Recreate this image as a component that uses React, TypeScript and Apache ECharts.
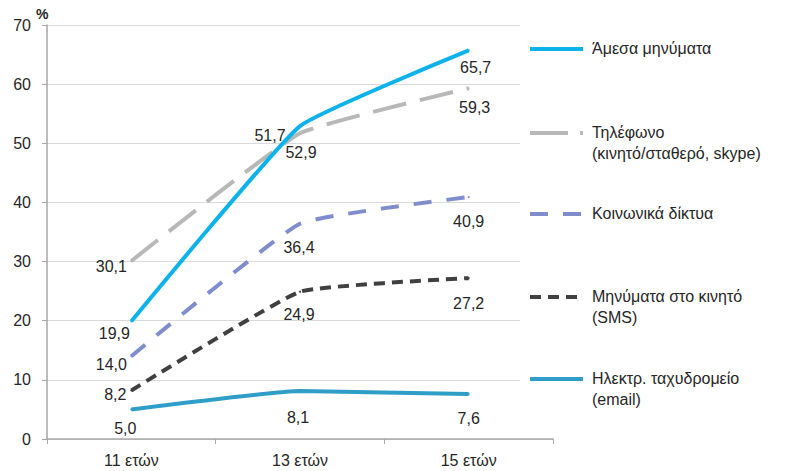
import React, { useEffect, useRef } from "react";
import * as echarts from "echarts";

// Categories and series values (%)
const ages = ["11 ετών", "13 ετών", "15 ετών"];
const instantMessages = [19.9, 52.9, 65.7];
const phone = [30.1, 51.7, 59.3];
const socialNetworks = [14.0, 36.4, 40.9];
const sms = [8.2, 24.9, 27.2];
const email = [5.0, 8.1, 7.6];

const seriesNames = [
  "Άμεσα μηνύματα",
  "Τηλέφωνο\n(κινητό/σταθερό, skype)",
  "Κοινωνικά δίκτυα",
  "Μηνύματα στο κινητό\n(SMS)",
  "Ηλεκτρ. ταχυδρομείο\n(email)",
];

const FONT = "'Liberation Sans', Arial, sans-serif";
const TEXT = "#262626";

type Style = {
  color: string;
  dash: number[] | null;
  labelOffsets: number[][];
  legendY: number;
};

const styles: Style[] = [
  { color: "#0DB2EA", dash: null, labelOffsets: [[-17, 12], [1, 26], [7, 17]], legendY: 49 },
  { color: "#B8B8B8", dash: [34, 14], labelOffsets: [[-20, 6], [-30, 2], [6, 19]], legendY: 133 },
  { color: "#7F8DCC", dash: [18, 15], labelOffsets: [[-20, 8], [-1, 24], [0, 24]], legendY: 214 },
  { color: "#404040", dash: [11, 7], labelOffsets: [[-16, 4], [-1, 23], [0, 25]], legendY: 297 },
  { color: "#2E9DC8", dash: null, labelOffsets: [[-6, 19], [-2, 26], [0, 24]], legendY: 379 },
];

const values = [instantMessages, phone, socialNetworks, sms, email];

const fmt = (v: number) => v.toFixed(1).replace(".", ",");

export default function App() {
  const ref = useRef<HTMLDivElement>(null);

  useEffect(() => {
    if (!ref.current) return;
    const chart = echarts.init(ref.current, undefined, { renderer: "svg" });

    const series = values.map((vals, i) => {
      const st = styles[i];
      return {
        type: "line",
        name: seriesNames[i],
        smooth: 0.12,
        symbol: "circle",
        symbolSize: 2,
        z: 10 - i,
        itemStyle: { color: st.color },
        lineStyle: {
          color: st.color,
          width: 4,
          type: st.dash ? st.dash : "solid",
          cap: "butt",
        },
        data: vals.map((v, j) => ({
          value: v,
          label: {
            show: true,
            position: "inside",
            offset: st.labelOffsets[j],
            formatter: () => fmt(v),
            color: TEXT,
            fontSize: 16,
            fontFamily: FONT,
            align: "center",
            verticalAlign: "middle",
          },
        })),
      };
    });

    const legendGraphics: any[] = [];
    styles.forEach((st, i) => {
      legendGraphics.push({
        type: "line",
        z: 101,
        shape: { x1: 530, y1: st.legendY, x2: 583, y2: st.legendY },
        style: {
          stroke: st.color,
          lineWidth: 4,
          lineDash: st.dash ? (i === 1 ? [38, 12] : st.dash) : null,
        },
      });
      legendGraphics.push({
        type: "text",
        z: 101,
        x: 592,
        y: st.legendY - 11,
        style: {
          text: seriesNames[i],
          fontSize: 16,
          fontFamily: FONT,
          fill: TEXT,
          lineHeight: 21,
          textVerticalAlign: "top",
        },
      });
    });

    chart.setOption({
      animation: false,
      backgroundColor: "#ffffff",
      grid: { left: 47, right: 239, top: 25, bottom: 32, containLabel: false },
      xAxis: {
        type: "category",
        data: ages,
        boundaryGap: true,
        axisLine: { show: true, lineStyle: { color: "#A6A6A6", width: 1.5 } },
        axisTick: { show: true, length: 5, alignWithLabel: false, lineStyle: { color: "#A6A6A6" } },
        axisLabel: { fontSize: 16, fontFamily: FONT, color: TEXT, margin: 13 },
        splitLine: { show: false },
      },
      yAxis: {
        type: "value",
        min: 0,
        max: 70,
        interval: 10,
        axisLine: { show: true, lineStyle: { color: "#A6A6A6", width: 1.5 } },
        axisTick: { show: true, length: 5, lineStyle: { color: "#A6A6A6" } },
        axisLabel: { fontSize: 16, fontFamily: FONT, color: TEXT, margin: 16 },
        splitLine: { show: true, lineStyle: { color: "#D9D9D9", width: 1 } },
      },
      series,
      graphic: [
        {
          type: "text",
          x: 36,
          y: 7,
          style: {
            text: "%",
            fontSize: 14,
            fontWeight: "bold",
            fontFamily: FONT,
            fill: TEXT,
          },
        },
        {
          type: "rect",
          z: 100,
          shape: { x: 520, y: 15, width: 272, height: 415 },
          style: { fill: "#ffffff" },
        },
        ...legendGraphics,
      ],
    });

    return () => chart.dispose();
  }, []);

  return (
    <div
      ref={ref}
      style={{ position: "fixed", left: 0, top: 0, width: 792, height: 471 }}
    />
  );
}
